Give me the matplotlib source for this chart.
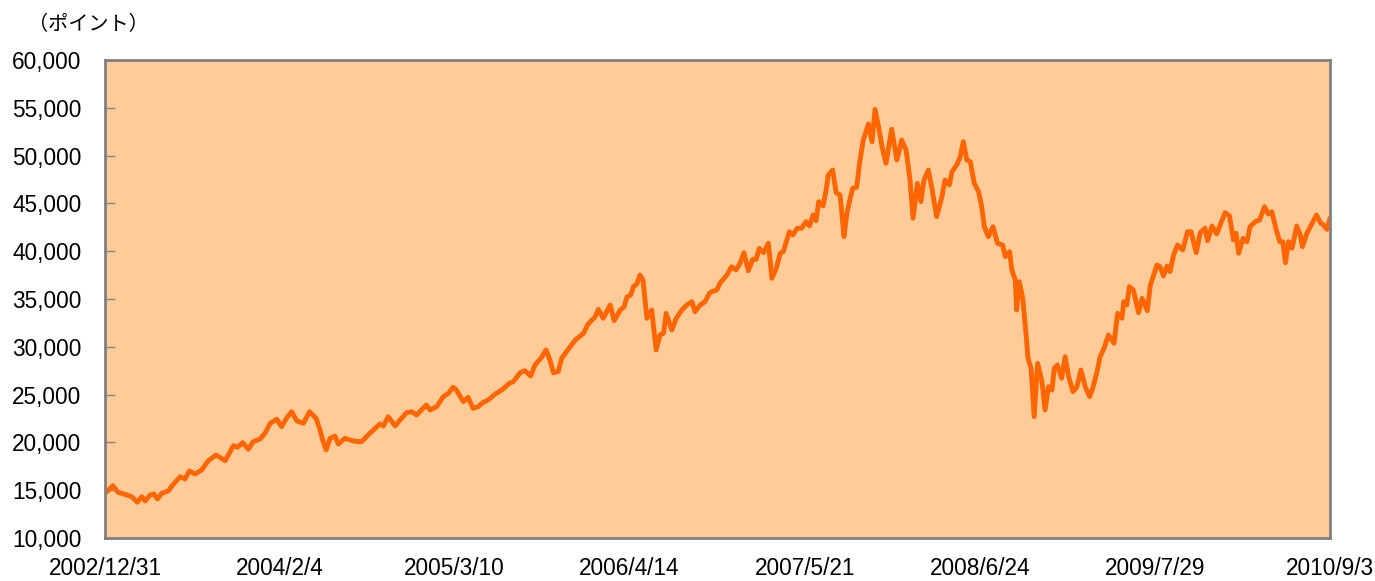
import numpy as np
import pandas as pd
import matplotlib
matplotlib.use('Agg')
import matplotlib.pyplot as plt
from matplotlib.ticker import FuncFormatter

# Datos: días desde 2002/12/31 y nivel del índice (puntos)
start_date = '2002-12-31'
days = [0, 4, 18, 30, 50, 61, 74, 84, 92, 103, 112, 120, 130, 145, 155, 172, 183, 193, 206, 221,
        236, 254, 275, 294, 303, 315, 328, 339, 355, 366, 378, 393, 404, 416, 427, 439, 454, 468,
        483, 492, 498, 506, 515, 526, 534, 549, 568, 587, 606, 629, 637, 648, 664, 675, 690, 702,
        713, 735, 744, 759, 774, 786, 796, 803, 820, 831, 842, 854, 864, 877, 893, 908, 925, 934,
        950, 961, 974, 984, 999, 1009, 1018, 1026, 1037, 1045, 1060, 1076, 1095, 1104, 1114, 1121,
        1129, 1140, 1156, 1165, 1179, 1188, 1194, 1203, 1209, 1217, 1224, 1231, 1240, 1251, 1261,
        1270, 1278, 1284, 1297, 1307, 1320, 1331, 1343, 1350, 1362, 1373, 1383, 1388, 1400, 1407,
        1423, 1434, 1444, 1453, 1462, 1472, 1482, 1490, 1497, 1507, 1518, 1526, 1536, 1545, 1552,
        1566, 1574, 1584, 1594, 1604, 1612, 1620, 1627, 1633, 1643, 1650, 1655, 1665, 1673, 1682,
        1691, 1697, 1705, 1711, 1720, 1726, 1735, 1747, 1755, 1762, 1770, 1778, 1787, 1800, 1812,
        1823, 1833, 1842, 1849, 1859, 1867, 1874, 1884, 1892, 1903, 1915, 1922, 1932, 1938, 1949,
        1957, 1964, 1972, 1980, 1989, 1999, 2006, 2012, 2021, 2032, 2042, 2054, 2060, 2070, 2075,
        2083, 2086, 2092, 2100, 2108, 2112, 2119, 2126, 2134, 2144, 2151, 2159, 2167, 2172, 2179,
        2189, 2197, 2205, 2215, 2224, 2233, 2243, 2253, 2260, 2270, 2277, 2286, 2296, 2309, 2317,
        2327, 2331, 2338, 2344, 2353, 2365, 2373, 2385, 2392, 2401, 2407, 2414, 2422, 2430, 2437,
        2445, 2454, 2466, 2477, 2485, 2497, 2506, 2517, 2523, 2533, 2544, 2553, 2563, 2573, 2582,
        2588, 2594, 2604, 2613, 2620, 2632, 2642, 2653, 2662, 2670, 2680, 2688, 2695, 2701, 2708,
        2716, 2727, 2735, 2740, 2750, 2759, 2772, 2781, 2788, 2796, 2803]
values = [14900, 14840, 15470, 14780, 14500, 14320, 13740, 14320, 13870, 14500, 14600, 14080, 14680,
          14920, 15550, 16410, 16170, 17010, 16700, 17110, 18060, 18680, 18090, 19660, 19490, 19970,
          19280, 20070, 20360, 20950, 22000, 22420, 21640, 22580, 23210, 22240, 22000, 23210, 22520,
          21300, 20250, 19210, 20430, 20670, 19830, 20430, 20150, 20070, 20950, 21930, 21720, 22690,
          21720, 22340, 23110, 23210, 22870, 23910, 23390, 23740, 24780, 25140, 25760, 25550, 24260,
          24720, 23570, 23740, 24150, 24440, 25060, 25480, 26180, 26350, 27290, 27500, 26950, 28100,
          28900, 29670, 28620, 27290, 27400, 28800, 29740, 30710, 31410, 32280, 32800, 33090, 33920,
          32980, 34370, 32730, 33850, 34200, 35180, 35420, 36290, 36570, 37510, 36990, 32980, 33850,
          29670, 31240, 31410, 33500, 31760, 32980, 33850, 34370, 34720, 33670, 34370, 34720, 35600,
          35760, 35940, 36640, 37510, 38380, 38030, 38730, 39840, 37960, 39150, 39150, 40300, 39840,
          40830, 37170, 38210, 39780, 39950, 42040, 41700, 42400, 42400, 43090, 42640, 43790, 43190,
          45180, 44730, 46400, 47970, 48490, 46120, 45880, 41520, 43790, 45530, 46580, 46680, 49020,
          51630, 53310, 51450, 54840, 53020, 50930, 49190, 52750, 49540, 51630, 50590, 47450, 43440,
          47100, 45180, 47450, 48490, 46580, 43610, 45700, 47450, 46930, 48320, 49020, 49890, 51450,
          49540, 49360, 47100, 46220, 44660, 42560, 41520, 42560, 40830, 40650, 39430, 39950, 38030,
          36990, 33850, 36810, 35070, 31060, 28800, 27750, 22690, 28270, 26350, 23390, 25830, 25480,
          27750, 28100, 26710, 28970, 26870, 25300, 25830, 27570, 25830, 24780, 25660, 27400, 28970,
          29840, 31240, 30370, 33500, 32980, 34720, 34370, 36290, 35940, 33570, 35070, 33780, 36470,
          37690, 38560, 38380, 37410, 38450, 37860, 39600, 40650, 40130, 42040, 42040, 39840, 41940,
          42400, 41100, 42640, 41800, 42920, 44030, 43680, 41170, 41870, 39780, 41350, 40990, 42560,
          43090, 43260, 44660, 43890, 44130, 42220, 40990, 40990, 38800, 40990, 40300, 42640, 41700,
          40470, 41870, 42640, 43790, 42980, 42740, 42290, 43440]

tick_dates = ['2002-12-31', '2004-02-04', '2005-03-10', '2006-04-14',
              '2007-05-21', '2008-06-24', '2009-07-29', '2010-09-03']
tick_labels = ['2002/12/31', '2004/2/4', '2005/3/10', '2006/4/14',
               '2007/5/21', '2008/6/24', '2009/7/29', '2010/9/3']
y_ticks = [10000, 15000, 20000, 25000, 30000, 35000, 40000, 45000, 50000, 55000, 60000]

dates = pd.Timestamp(start_date) + pd.to_timedelta(days, unit='D')

plt.rcParams['font.family'] = ['Liberation Sans', 'DejaVu Sans']

fig = plt.figure(figsize=(13.75, 5.81), dpi=100)
ax = fig.add_axes([105/1375, 1 - 538/581, (1330 - 105)/1375, (538 - 60)/581])
ax.set_facecolor('#FFCC99')

ax.plot(dates, values, color='#FF6600', linewidth=3.5, solid_joinstyle='round', solid_capstyle='round')

ax.set_xlim(pd.Timestamp(tick_dates[0]), pd.Timestamp(tick_dates[-1]))
ax.set_ylim(10000, 60000)
ax.set_yticks(y_ticks)
ax.yaxis.set_major_formatter(FuncFormatter(lambda v, p: f'{int(v):,}'))
ax.set_xticks(pd.to_datetime(tick_dates))
ax.set_xticklabels(tick_labels)

ax.tick_params(axis='y', direction='in', length=7, width=1, color='#808080', labelsize=16.3, pad=17)
ax.tick_params(axis='x', length=0, labelsize=16.3, pad=14)
for sp in ax.spines.values():
    sp.set_color('#808080')
    sp.set_linewidth(2)

fig.text(88/1375, 1 - 25/581, '（ポイント）', family=['Noto Sans CJK JP', 'DejaVu Sans'],
         fontsize=14.5, ha='center', va='center')

fig.savefig('out.png', dpi=100)
